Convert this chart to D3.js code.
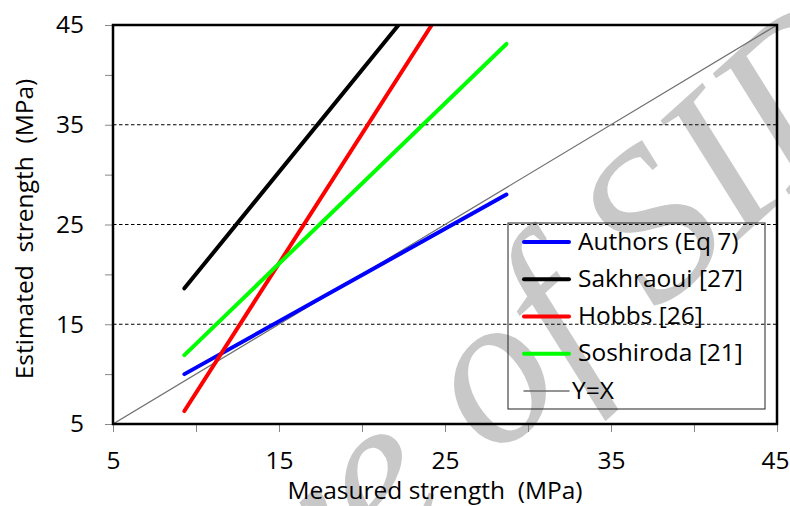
<!DOCTYPE html>
<html><head><meta charset="utf-8">
<script src="https://cdn.jsdelivr.net/npm/d3@7"></script>
<style>body{margin:0;background:#fff}svg{display:block}text{white-space:pre}</style>
</head><body><svg id="c" width="790" height="506"></svg>
<script>
// ---- data ----
const xTickValues = [5, 15, 25, 35, 45];
const yTickValues = [5, 15, 25, 35, 45];
const minorTickValues = [10, 20, 30, 40];
const gridValues = [15, 25, 35];
const seriesNames = ["Authors (Eq 7)", "Sakhraoui [27]", "Hobbs [26]", "Soshiroda [21]", "Y=X"];
const seriesColors = ["#0000ff", "#000000", "#ff0000", "#00ff00", "#707070"];
const authorsX = [9.3, 28.7],    authorsY = [10.0, 28.0];
const sakhraouiX = [9.3, 22.2],  sakhraouiY = [18.6, 45.0];
const hobbsX = [9.3, 24.2],      hobbsY = [6.3, 45.0];
const soshirodaX = [9.3, 28.7],  soshirodaY = [11.9, 43.1];
const identityX = [5, 45],       identityY = [5, 45];
const xTitle = "Measured strength  (MPa)";
const yTitle = "Estimated  strength  (MPa)";
const watermarkText = "Archive of SID";

// ---- layout ----
const L = 113, R = 777, T = 25, B = 424;
const FONT = "'Open Sans', Lato, sans-serif";
const FS = 24.5;
const svg = d3.select("#c");
const x = d3.scaleLinear().domain([5, 45]).range([L, R]);
const y = d3.scaleLinear().domain([5, 45]).range([B, T]);

// watermark (behind everything)
const wfs = 215;
const wm = svg.append("g").attr("transform", "translate(500,388) rotate(-42)");
const wt = wm.append("text").text(watermarkText)
  .attr("font-family", "'Liberation Serif', 'DejaVu Serif', serif")
  .attr("font-style", "italic").attr("font-size", wfs).attr("fill", "#c8c8c8");
const pre = wt.node().getSubStringLength(0, 8);
const ow = wt.node().getSubStringLength(8, 1);
wt.attr("x", -(pre + ow / 2)).attr("y", wfs * 0.23);

// gridlines
svg.append("g").selectAll("line").data(gridValues).join("line")
  .attr("x1", L).attr("x2", R).attr("y1", d => y(d)).attr("y2", d => y(d))
  .attr("stroke", "#000").attr("stroke-width", 1).attr("stroke-dasharray", "3.5,2.5");

// series
svg.append("clipPath").attr("id", "clip").append("rect")
  .attr("x", L).attr("y", T).attr("width", R - L).attr("height", B - T);
const series = [
  {xs: identityX, ys: identityY, c: seriesColors[4], w: 1.2},
  {xs: authorsX, ys: authorsY, c: seriesColors[0], w: 4},
  {xs: sakhraouiX, ys: sakhraouiY, c: seriesColors[1], w: 4},
  {xs: hobbsX, ys: hobbsY, c: seriesColors[2], w: 4},
  {xs: soshirodaX, ys: soshirodaY, c: seriesColors[3], w: 4}
];
const line = d3.line().x(d => x(d[0])).y(d => y(d[1]));
svg.append("g").attr("clip-path", "url(#clip)").selectAll("path").data(series).join("path")
  .attr("d", s => line(s.xs.map((v, i) => [v, s.ys[i]])))
  .attr("fill", "none").attr("stroke", s => s.c).attr("stroke-width", s => s.w)
  .attr("stroke-linecap", "round");

// axes
const allX = xTickValues.concat(minorTickValues).sort((a, b) => a - b);
const allY = yTickValues.concat(minorTickValues).sort((a, b) => a - b);
const xa = svg.append("g").attr("transform", `translate(0,${B})`)
  .call(d3.axisBottom(x).tickValues(allX).tickSize(8).tickPadding(20)
    .tickFormat(d => xTickValues.includes(d) ? d : ""));
const ya = svg.append("g").attr("transform", `translate(${L},0)`)
  .call(d3.axisLeft(y).tickValues(allY).tickSize(8).tickPadding(21)
    .tickFormat(d => yTickValues.includes(d) ? d : ""));
[xa, ya].forEach(a => {
  a.select(".domain").remove();
  a.selectAll(".tick line").attr("stroke", "#888").attr("stroke-width", 1);
  a.selectAll(".tick text").attr("font-family", FONT).attr("font-size", FS).attr("fill", "#000");
});
xa.selectAll(".tick text").filter(d => d === 45).attr("text-anchor", "end").attr("dx", 12);

// frame
svg.append("rect").attr("x", L).attr("y", T).attr("width", R - L).attr("height", B - T)
  .attr("fill", "none").attr("stroke", "#000").attr("stroke-width", 2.5);

// titles
svg.append("text").text(xTitle).attr("x", 435).attr("y", 499).attr("text-anchor", "middle")
  .attr("font-family", FONT).attr("font-size", FS).attr("fill", "#000");
svg.append("text").text(yTitle).attr("transform", "translate(33,229) rotate(-90)")
  .attr("text-anchor", "middle").attr("font-family", FONT).attr("font-size", FS).attr("fill", "#000");

// legend
const lg = svg.append("g");
lg.append("rect").attr("x", 508).attr("y", 223).attr("width", 257).attr("height", 186)
  .attr("fill", "none").attr("stroke", "#222").attr("stroke-width", 1);
const rowY = d3.scalePoint().domain(seriesNames).range([242, 391]);
const widths = [4, 4, 4, 4, 1.5];
seriesNames.forEach((n, i) => {
  lg.append("line").attr("x1", 524).attr("x2", 569).attr("y1", rowY(n)).attr("y2", rowY(n))
    .attr("stroke", seriesColors[i]).attr("stroke-width", widths[i]).attr("stroke-linecap", "round");
  lg.append("text").text(n).attr("x", i === 4 ? 572 : 578).attr("y", rowY(n) + 7.5)
    .attr("font-family", FONT).attr("font-size", FS).attr("fill", "#000");
});
</script></body></html>
